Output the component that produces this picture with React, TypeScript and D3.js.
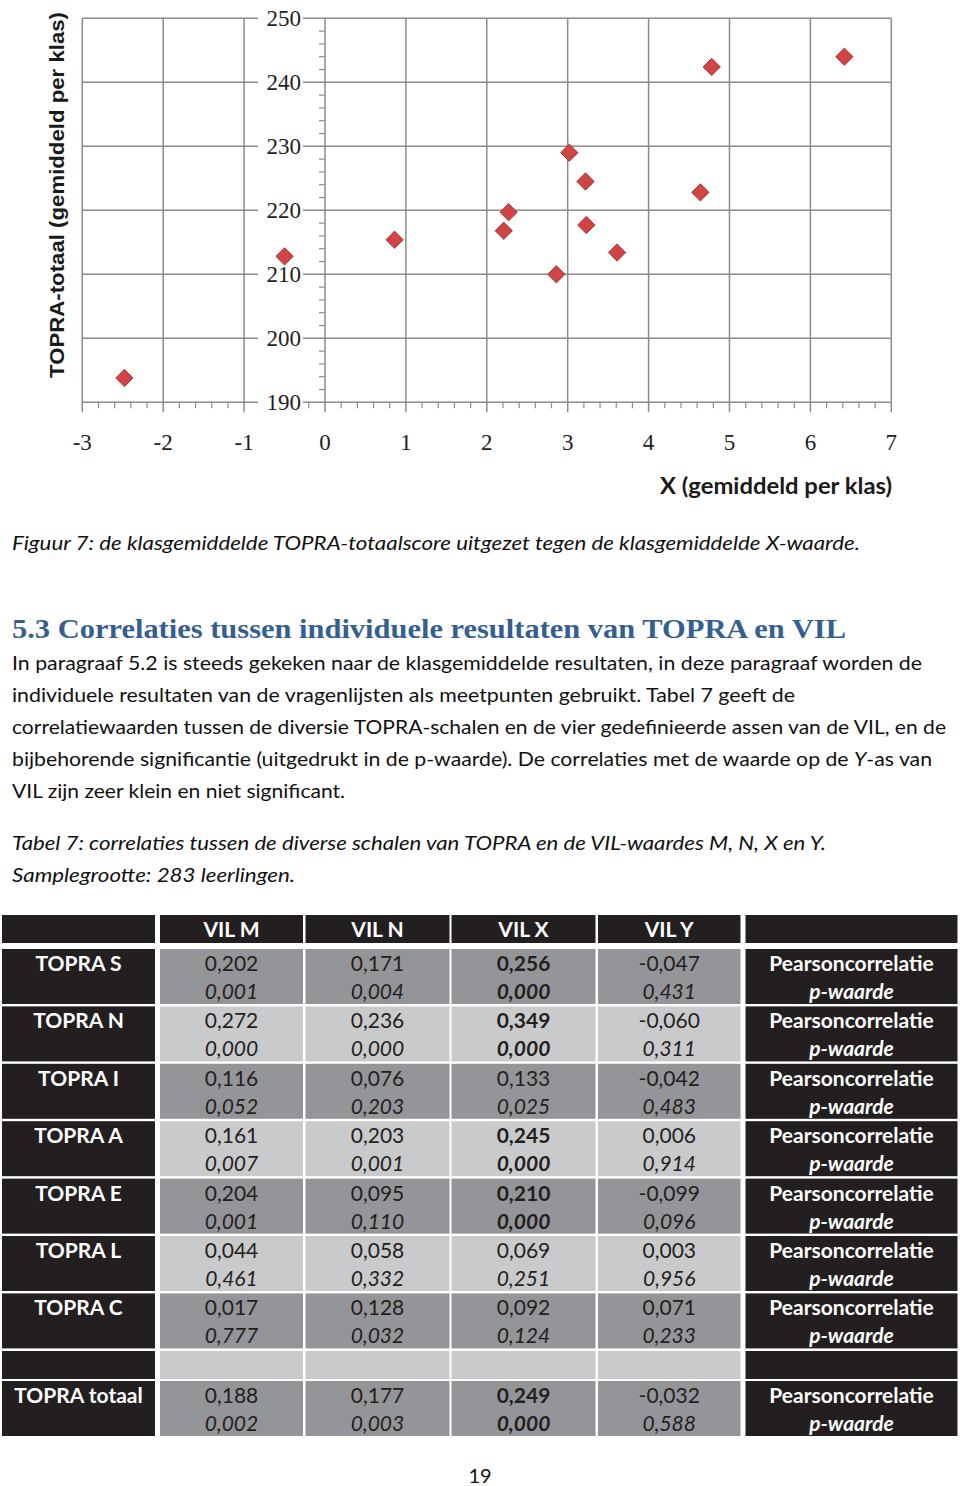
import React from "react";
import * as d3 from "d3";

// ---- Scatter data (class averages) ----
const pointX = [-2.48, -0.5, 0.86, 2.21, 2.27, 2.86, 3.02, 3.22, 3.23, 3.61, 4.64, 4.78, 6.42];
const pointY = [193.8, 212.8, 215.4, 216.8, 219.7, 210.0, 229.0, 224.5, 217.7, 213.4, 222.8, 242.4, 244.0];
const xTicks = [-3, -2, -1, 0, 1, 2, 3, 4, 5, 6, 7];
const yTicks = [190, 200, 210, 220, 230, 240, 250];

// ---- Table data ----
const colLabels = ["VIL M", "VIL N", "VIL X", "VIL Y"];
const rowLabels = ["TOPRA S", "TOPRA N", "TOPRA I", "TOPRA A", "TOPRA E", "TOPRA L", "TOPRA C", "", "TOPRA totaal"];
const corrValues = [
  ["0,202", "0,171", "0,256", "-0,047"],
  ["0,272", "0,236", "0,349", "-0,060"],
  ["0,116", "0,076", "0,133", "-0,042"],
  ["0,161", "0,203", "0,245", "0,006"],
  ["0,204", "0,095", "0,210", "-0,099"],
  ["0,044", "0,058", "0,069", "0,003"],
  ["0,017", "0,128", "0,092", "0,071"],
  null,
  ["0,188", "0,177", "0,249", "-0,032"],
];
const pValues = [
  ["0,001", "0,004", "0,000", "0,431"],
  ["0,000", "0,000", "0,000", "0,311"],
  ["0,052", "0,203", "0,025", "0,483"],
  ["0,007", "0,001", "0,000", "0,914"],
  ["0,001", "0,110", "0,000", "0,096"],
  ["0,461", "0,332", "0,251", "0,956"],
  ["0,777", "0,032", "0,124", "0,233"],
  null,
  ["0,002", "0,003", "0,000", "0,588"],
];
const boldCells = [
  [false, false, true, false],
  [false, false, true, false],
  [false, false, false, false],
  [false, false, true, false],
  [false, false, true, false],
  [false, false, false, false],
  [false, false, false, false],
  null,
  [false, false, true, false],
];

const bodyLines = [
  "In paragraaf 5.2 is steeds gekeken naar de klasgemiddelde resultaten, in deze paragraaf worden de",
  "individuele resultaten van de vragenlijsten als meetpunten gebruikt. Tabel 7 geeft de",
  "correlatiewaarden tussen de diversie TOPRA-schalen en de vier gedefinieerde assen van de VIL, en de",
];
const bodyLineWidths = [910, 783, 934];

const SANS = "Lato, 'Noto Sans', sans-serif";
const SERIF = "'Liberation Serif', 'DejaVu Serif', serif";
const DARK = "#231f20";
const GRAY_D = "#939598";
const GRAY_L = "#c9cacc";

export default function App() {
  const x = d3.scaleLinear().domain([-3, 7]).range([82.3, 891.3]);
  const y = d3.scaleLinear().domain([190, 250]).range([402.3, 18.3]);
  const grid = "#8c8c8c";

  const minorX = d3.range(-3, 7.001, 0.2).filter((v) => Math.abs(v - Math.round(v)) > 0.01);
  const minorY = d3.range(190, 250.001, 2).filter((v) => Math.round(v) % 10 !== 0);

  const diamond = d3.symbol().type(d3.symbolDiamond2).size(190);

  // table geometry
  const colX = [
    [2, 155],
    [160, 303],
    [305.5, 449.5],
    [451.5, 595.5],
    [598, 740.5],
    [745.5, 957.5],
  ];
  const headerTop = 915;
  const headerH = 28;
  const rowTops = [949, 1006.4, 1063.8, 1121.2, 1178.6, 1236, 1293.4, 1351, 1381];
  const rowHs = [55, 55, 55, 55, 55, 55, 55, 28, 55];
  const rowShade = [GRAY_D, GRAY_L, GRAY_D, GRAY_L, GRAY_D, GRAY_L, GRAY_D, GRAY_L, GRAY_D];

  return (
    <svg
      width={960}
      height={1486}
      style={{ position: "absolute", left: 0, top: 0, display: "block", background: "#fff" }}
    >
      <rect x={0} y={0} width={960} height={1486} fill="#fff" />

      {/* ---------- Scatter chart ---------- */}
      <g>
        {yTicks.map((t) => (
          <line key={"gy" + t} x1={x(-3)} x2={x(7)} y1={y(t)} y2={y(t)} stroke={grid} strokeWidth={1.5} />
        ))}
        {xTicks.map((t) => (
          <line key={"gx" + t} x1={x(t)} x2={x(t)} y1={y(250)} y2={y(190) + 10} stroke={grid} strokeWidth={1.5} />
        ))}
        {minorX.map((t, i) => (
          <line key={"mx" + i} x1={x(t)} x2={x(t)} y1={y(190)} y2={y(190) + 6} stroke={grid} strokeWidth={1.2} />
        ))}
        {minorY.map((t, i) => (
          <line key={"my" + i} x1={x(0) - 6} x2={x(0)} y1={y(t)} y2={y(t)} stroke={grid} strokeWidth={1.2} />
        ))}
        {/* y tick labels with white boxes */}
        {yTicks.map((t) => (
          <g key={"yl" + t}>
            <rect x={258} y={y(t) - 11} width={45} height={22} fill="#fff" />
            <text
              x={301}
              y={y(t) + 7.5}
              textAnchor="end"
              fontFamily={SERIF}
              fontSize={23}
              fill="#222"
            >
              {t}
            </text>
          </g>
        ))}
        {xTicks.map((t) => (
          <text
            key={"xl" + t}
            x={x(t)}
            y={450}
            textAnchor="middle"
            fontFamily={SERIF}
            fontSize={23}
            fill="#222"
          >
            {t}
          </text>
        ))}
        <text
          transform={`translate(64,195) rotate(-90)`}
          textAnchor="middle"
          fontFamily="'Liberation Sans', Arial, sans-serif"
          fontWeight="bold"
          fontSize={20}
          fill="#1a1a1a"
          textLength={366}
          lengthAdjust="spacingAndGlyphs"
        >
          TOPRA-totaal (gemiddeld per klas)
        </text>
        <text
          x={892}
          y={494}
          textAnchor="end"
          fontFamily={SANS}
          fontWeight="bold"
          fontSize={22}
          fill="#1a1a1a"
          textLength={232}
          lengthAdjust="spacingAndGlyphs"
        >
          X (gemiddeld per klas)
        </text>
        {pointX.map((px, i) => (
          <path
            key={"pt" + i}
            d={diamond() as string}
            transform={`translate(${x(px)},${y(pointY[i])})`}
            fill="#cf4444"
            stroke="#b23535"
            strokeWidth={1}
          />
        ))}
      </g>

      {/* ---------- Text ---------- */}
      <text
        x={12}
        y={550}
        fontFamily={SANS}
        fontStyle="italic"
        fontSize={20}
        fill="#111"
        textLength={848}
        lengthAdjust="spacingAndGlyphs"
      >
        Figuur 7: de klasgemiddelde TOPRA-totaalscore uitgezet tegen de klasgemiddelde X-waarde.
      </text>
      <text
        x={12}
        y={638}
        fontFamily={SERIF}
        fontWeight="bold"
        fontSize={28}
        fill="#365f91"
        textLength={834}
        lengthAdjust="spacingAndGlyphs"
      >
        5.3 Correlaties tussen individuele resultaten van TOPRA en VIL
      </text>
      {bodyLines.map((ln, i) => (
        <text
          key={"bl" + i}
          x={12}
          y={670 + i * 32}
          fontFamily={SANS}
          fontSize={20}
          fill="#111"
          textLength={bodyLineWidths[i]}
          lengthAdjust="spacingAndGlyphs"
        >
          {ln}
        </text>
      ))}
      <text
        x={12}
        y={766}
        fontFamily={SANS}
        fontSize={20}
        fill="#111"
        textLength={920}
        lengthAdjust="spacingAndGlyphs"
      >
        bijbehorende significantie (uitgedrukt in de p-waarde). De correlaties met de waarde op de{" "}
        <tspan fontStyle="italic">Y</tspan>-as van
      </text>
      <text
        x={12}
        y={798}
        fontFamily={SANS}
        fontSize={20}
        fill="#111"
        textLength={333}
        lengthAdjust="spacingAndGlyphs"
      >
        VIL zijn zeer klein en niet significant.
      </text>
      <text
        x={12}
        y={850}
        fontFamily={SANS}
        fontStyle="italic"
        fontSize={20}
        fill="#111"
        textLength={814}
        lengthAdjust="spacingAndGlyphs"
      >
        Tabel 7: correlaties tussen de diverse schalen van TOPRA en de VIL-waardes M, N, X en Y.
      </text>
      <text
        x={12}
        y={882}
        fontFamily={SANS}
        fontStyle="italic"
        fontSize={20}
        fill="#111"
        textLength={283}
        lengthAdjust="spacingAndGlyphs"
      >
        Samplegrootte: 283 leerlingen.
      </text>

      {/* ---------- Table ---------- */}
      <g>
        {colX.map(([a, b], ci) => (
          <rect key={"hc" + ci} x={a} y={headerTop} width={b - a} height={headerH} fill={DARK} />
        ))}
        {colLabels.map((lab, ci) => (
          <text
            key={"hl" + ci}
            x={(colX[ci + 1][0] + colX[ci + 1][1]) / 2}
            y={headerTop + 22}
            textAnchor="middle"
            fontFamily={SANS}
            fontWeight="bold"
            fontSize={21}
            fill="#fff"
          >
            {lab}
          </text>
        ))}
        {rowLabels.map((lab, ri) => {
          const top = rowTops[ri];
          const h = rowHs[ri];
          const corr = corrValues[ri];
          const pv = pValues[ri];
          const bold = boldCells[ri];
          return (
            <g key={"r" + ri}>
              <rect x={colX[0][0]} y={top} width={colX[0][1] - colX[0][0]} height={h} fill={DARK} />
              {[1, 2, 3, 4].map((ci) => (
                <rect
                  key={"c" + ci}
                  x={colX[ci][0]}
                  y={top}
                  width={colX[ci][1] - colX[ci][0]}
                  height={h}
                  fill={rowShade[ri]}
                />
              ))}
              <rect x={colX[5][0]} y={top} width={colX[5][1] - colX[5][0]} height={h} fill={DARK} />
              {lab && (
                <text
                  x={(colX[0][0] + colX[0][1]) / 2}
                  y={top + 22}
                  textAnchor="middle"
                  fontFamily={SANS}
                  fontWeight="bold"
                  fontSize={21}
                  fill="#fff"
                >
                  {lab}
                </text>
              )}
              {corr &&
                corr.map((v, ci) => (
                  <g key={"v" + ci}>
                    <text
                      x={(colX[ci + 1][0] + colX[ci + 1][1]) / 2}
                      y={top + 22}
                      textAnchor="middle"
                      fontFamily={SANS}
                      fontWeight={bold && bold[ci] ? "bold" : "normal"}
                      fontSize={21}
                      fill={DARK}
                    >
                      {v}
                    </text>
                    <text
                      x={(colX[ci + 1][0] + colX[ci + 1][1]) / 2}
                      y={top + 50}
                      textAnchor="middle"
                      fontFamily={SANS}
                      fontStyle="italic"
                      fontWeight={bold && bold[ci] ? "bold" : "normal"}
                      fontSize={21}
                      fill={DARK}
                    >
                      {pv ? pv[ci] : ""}
                    </text>
                  </g>
                ))}
              {corr && (
                <>
                  <text
                    x={(colX[5][0] + colX[5][1]) / 2}
                    y={top + 22}
                    textAnchor="middle"
                    fontFamily={SANS}
                    fontWeight="bold"
                    fontSize={21}
                    fill="#fff"
                  >
                    Pearsoncorrelatie
                  </text>
                  <text
                    x={(colX[5][0] + colX[5][1]) / 2}
                    y={top + 50}
                    textAnchor="middle"
                    fontFamily={SANS}
                    fontWeight="bold"
                    fontStyle="italic"
                    fontSize={21}
                    fill="#fff"
                  >
                    p-waarde
                  </text>
                </>
              )}
            </g>
          );
        })}
      </g>

      <text x={480} y={1483} textAnchor="middle" fontFamily={SANS} fontSize={20} fill="#111">
        19
      </text>
    </svg>
  );
}
